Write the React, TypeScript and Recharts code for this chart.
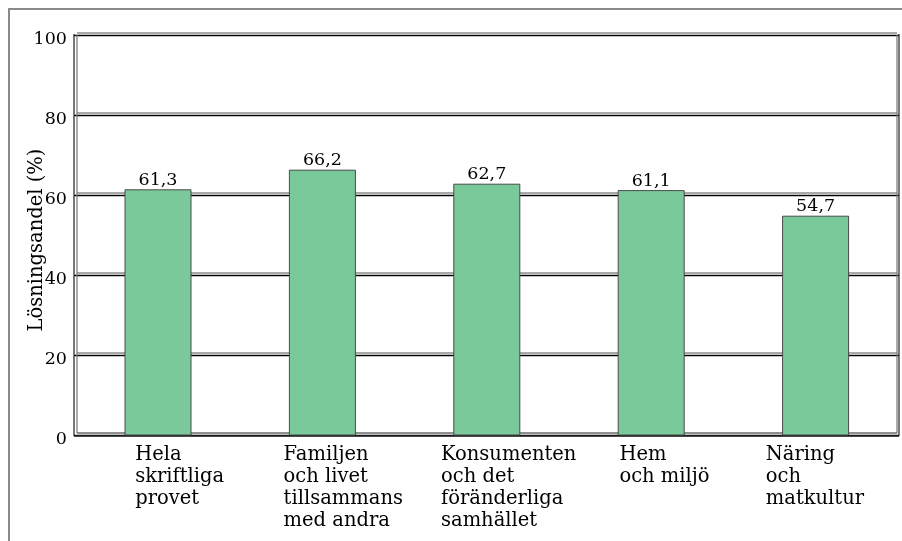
import React from 'react';
import * as R from 'recharts';
import { BarChart, Bar, XAxis, YAxis, CartesianGrid, LabelList } from 'recharts';

const categories = [
  'Hela\nskriftliga\nprovet',
  'Familjen\noch livet\ntillsammans\nmed andra',
  'Konsumenten\noch det\nföränderliga\nsamhället',
  'Hem\noch miljö',
  'Näring\noch\nmatkultur',
];
const values = [61.3, 66.2, 62.7, 61.1, 54.7];
const yTicks = [0, 20, 40, 60, 80, 100];
const yLabel = 'Lösningsandel (%)';

const data = categories.map((c, i) => ({ name: c, value: values[i] }));

const FONT = '"DejaVu Serif", serif';
const FS_NUM = 17.5;
const FS_TXT = 19.5;
const LABEL_SHIFT = [-23, -39, -46, -32, -50];

const usePA: () => any = (R as any).usePlotArea ?? (() => null);

function Walls() {
  const p = usePA();
  const x = p?.x ?? 68;
  const y = p?.y ?? 27;
  const width = p?.width ?? 822;
  const height = p?.height ?? 400;
  const r = x + width;
  const b = y + height;
  return (
    <g>
      <line x1={0} y1={1} x2={894} y2={1} stroke="#8a8a8a" strokeWidth={2} />
      <line x1={1} y1={0} x2={1} y2={533} stroke="#8a8a8a" strokeWidth={2} />
      <line x1={x - 2} y1={y - 1} x2={x - 2} y2={b + 1} stroke="#222" strokeWidth={1.2} />
      <line x1={x + 1} y1={y} x2={x + 1} y2={b - 2} stroke="#777" strokeWidth={1.2} />
      <line x1={r - 1} y1={y} x2={r - 1} y2={b - 2} stroke="#777" strokeWidth={1.2} />
      <line x1={r + 1} y1={y - 1} x2={r + 1} y2={b + 1} stroke="#222" strokeWidth={1.2} />
      <line x1={x - 2} y1={b + 1} x2={r + 1} y2={b + 1} stroke="#222" strokeWidth={1.5} />
      <line x1={x + 1} y1={b - 2} x2={r - 1} y2={b - 2} stroke="#777" strokeWidth={1.2} />
      <text
        transform={`translate(34, ${y + height / 2 + 5}) rotate(-90)`}
        textAnchor="middle"
        fontFamily={FONT}
        fontSize={FS_TXT}
        fill="#000"
      >
        {yLabel}
      </text>
    </g>
  );
}

function gridLine(props: any) {
  const { x1, x2, y1, index } = props;
  return (
    <g key={`g-${index}`}>
      <line x1={x1 + 1} y1={y1 - 2} x2={x2 - 1} y2={y1 - 2} stroke="#8c8c8c" strokeWidth={1.5} />
      <line x1={x1 - 2} y1={y1 + 0.5} x2={x2 + 1} y2={y1 + 0.5} stroke="#000" strokeWidth={1.5} />
    </g>
  );
}

function XTick(props: any) {
  const { x, y, payload, index } = props;
  const i = payload?.index ?? index ?? 0;
  const lines = String(payload.value).split('\n');
  const lx = x + (LABEL_SHIFT[i] ?? -40);
  return (
    <text x={lx} y={y + 25} fontFamily={FONT} fontSize={FS_TXT} fill="#000" textAnchor="start">
      {lines.map((l, k) => (
        <tspan key={k} x={lx} dy={k === 0 ? 0 : 22}>
          {l}
        </tspan>
      ))}
    </text>
  );
}

function YTick(props: any) {
  const { x, y, payload } = props;
  return (
    <text x={x - 9} y={y + 9} fontFamily={FONT} fontSize={FS_NUM} fill="#000" textAnchor="end">
      {payload.value}
    </text>
  );
}

export default function App() {
  return (
    <div style={{ position: 'fixed', left: 8, top: 8, width: 894, height: 533 }}>
      <BarChart
        width={894}
        height={533}
        data={data}
        margin={{ top: 27, right: 4, bottom: 76, left: 0 }}
        barCategoryGap={0}
      >
        <CartesianGrid vertical={false} horizontal={gridLine as any} />
        <XAxis
          dataKey="name"
          height={30}
          axisLine={false}
          tickLine={false}
          tickSize={0}
          tickMargin={0}
          interval={0}
          tick={<XTick />}
        />
        <YAxis
          domain={[0, 100]}
          ticks={yTicks}
          width={68}
          axisLine={false}
          tickLine={false}
          tickSize={0}
          tickMargin={0}
          tick={<YTick />}
        />
        <Bar dataKey="value" fill="#7ac99b" stroke="#4a4a4a" strokeWidth={1} barSize={66} isAnimationActive={false}>
          <LabelList
            dataKey="value"
            position="top"
            offset={5}
            formatter={(v: any) => String(v).replace('.', ',')}
            fontFamily={FONT}
            fontSize={FS_NUM}
            fill="#000"
          />
        </Bar>
        <Walls />
      </BarChart>
    </div>
  );
}
